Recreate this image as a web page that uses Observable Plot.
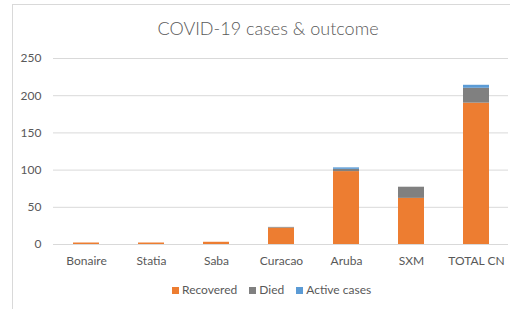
<!DOCTYPE html>
<html>
<head>
<meta charset="utf-8">
<script src="https://cdn.jsdelivr.net/npm/d3@7"></script>
<script src="https://cdn.jsdelivr.net/npm/@observablehq/plot@0.6"></script>
<style>
  html, body { margin: 0; padding: 0; background: #fff; }
  #wrap { position: relative; width: 510px; height: 309px; overflow: hidden; font-family: Lato, "Open Sans", sans-serif; }
  #frame { position: absolute; left: 12px; top: 4px; width: 520px; height: 330px; border-left: 1px solid #d9d9d9; border-top: 1px solid #d9d9d9; }
  #title { position: absolute; left: 0; width: 536px; top: 17px; text-align: center; font-size: 18px; color: #595959; font-weight: 300; }
  #chart { position: absolute; left: 0; top: 0; }
  #legend { position: absolute; top: 282px; left: 172px; font-size: 12px; color: #595959; white-space: nowrap; }
  #legend span.sw { display: inline-block; width: 7px; height: 7px; margin-right: 3px; vertical-align: 0px; }
  #legend span.item { margin-right: 12px; }
</style>
</head>
<body>
<div id="wrap">
  <div id="frame"></div>
  <div id="chart"></div>
  <div id="title">COVID-19 cases &amp; outcome</div>
  <div id="legend"></div>
</div>
<script>
const categories = ["Bonaire", "Statia", "Saba", "Curacao", "Aruba", "SXM", "TOTAL CN"];
const recovered = [2, 2, 3, 22, 98, 62, 190];
const died = [0, 0, 0, 1, 3, 15, 20];
const active = [0, 0, 0, 0, 2, 0, 4];
const seriesNames = ["Recovered", "Died", "Active cases"];
const seriesColors = ["#ED7D31", "#808080", "#5B9BD5"];
const yTicks = [0, 50, 100, 150, 200, 250];

const rows = [];
categories.forEach((c, i) => {
  rows.push({category: c, status: "Recovered", value: recovered[i]});
  rows.push({category: c, status: "Died", value: died[i]});
  rows.push({category: c, status: "Active cases", value: active[i]});
});

const chart = Plot.plot({
  width: 510,
  height: 280,
  marginLeft: 53,
  marginRight: 2,
  marginTop: 58,
  marginBottom: 36,
  style: {fontFamily: "Lato, 'Open Sans', sans-serif", fontSize: "12px", color: "#595959", background: "transparent"},
  x: {domain: categories, paddingInner: 0.6, paddingOuter: 0.3, label: null, tickSize: 0, tickPadding: 12},
  y: {domain: [0, 250], ticks: yTicks, label: null, tickSize: 0, tickPadding: 12, grid: false},
  color: {domain: seriesNames, range: seriesColors},
  marks: [
    Plot.gridY(yTicks, {stroke: "#d9d9d9", strokeOpacity: 1, strokeWidth: 1}),
    Plot.axisY({ticks: yTicks, tickSize: 0, tickPadding: 12, label: null, fill: "#595959"}),
    Plot.axisX({tickSize: 0, tickPadding: 12, label: null, fill: "#595959"}),
    Plot.barY(rows, {x: "category", y: "value", fill: "status", order: seriesNames})
  ]
});
document.getElementById("chart").appendChild(chart);

const legend = document.getElementById("legend");
seriesNames.forEach((n, i) => {
  const item = document.createElement("span");
  item.className = "item";
  const sw = document.createElement("span");
  sw.className = "sw";
  sw.style.background = seriesColors[i];
  item.appendChild(sw);
  item.appendChild(document.createTextNode(n));
  legend.appendChild(item);
});
</script>
</body>
</html>
